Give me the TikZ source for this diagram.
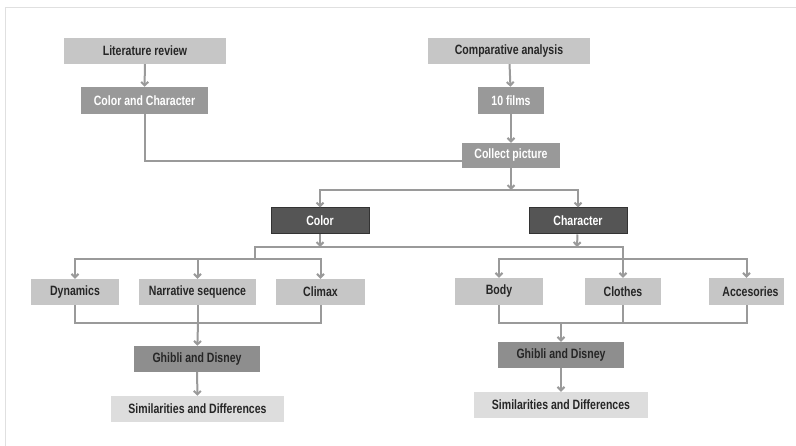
\documentclass[tikz,border=0pt]{standalone}
\usepackage{fontspec}
\setmainfont{Liberation Sans}[FakeStretch=0.78]
\usetikzlibrary{arrows.meta}
\definecolor{lightbox}{HTML}{C6C6C6}
\definecolor{palebox}{HTML}{DDDDDD}
\definecolor{midbox}{HTML}{999999}
\definecolor{ghibbox}{HTML}{8E8E8E}
\definecolor{darkbox}{HTML}{555555}
\definecolor{wire}{HTML}{9A9A9A}
\tikzset{
  box/.style={minimum width=#1,minimum height=26,inner sep=0pt,font=\bfseries\fontsize{13.5}{15}\selectfont},
  lightnode/.style={box=#1,fill=lightbox,text=black!85},
  palenode/.style={box=#1,fill=palebox,text=black!85},
  midnode/.style={box=#1,fill=midbox,text=white},
  ghibnode/.style={box=#1,fill=ghibbox,text=black!85},
  darknode/.style={box=#1,fill=darkbox,draw=black!80,line width=1pt,text=white},
  wireline/.style={draw=wire,line width=2pt},
  arr/.style={wireline,-{Straight Barb[length=3.5pt,width=7pt]}}
}

\begin{document}
\begin{tikzpicture}[x=1pt,y=-1pt]
  \useasboundingbox (0,0) rectangle (796,446);
  \draw[black!12,line width=1pt] (5,446)--(5,8)--(796,8);
  % top part
  \node[lightnode=162] (lit) at (145,51) {Literature review};
  \node[midnode=127,minimum height=27] (cc) at (144.5,100.5) {Color and Character};
  \node[lightnode=162] (comp) at (509,51) {Comparative analysis};
  \node[midnode=66,minimum height=27] (films) at (511,100.5) {10 films};
  \node[midnode=98,minimum height=25] (collect) at (511,155.5) {Collect picture};
  \node[darknode=98] (color) at (320,221) {Color};
  \node[darknode=98] (charac) at (578,221) {Character};
  % second row
  \node[lightnode=88] (dyn) at (75,292) {Dynamics};
  \node[lightnode=117] (narr) at (197.5,292) {Narrative sequence};
  \node[lightnode=89] (clim) at (320.5,292) {Climax};
  \node[lightnode=88,minimum height=27] (body) at (499,291.5) {Body};
  \node[lightnode=76,minimum height=27] (clothes) at (623,291.5) {Clothes};
  \node[lightnode=75,minimum height=27] (acc) at (746.5,291.5) {\hspace{8pt}Accesories};
  % bottom
  \node[ghibnode=126] (ghibL) at (197,359) {Ghibli and Disney};
  \node[palenode=173] (simL) at (197.5,409) {Similarities and Differences};
  \node[ghibnode=126] (ghibR) at (561,355) {Ghibli and Disney};
  \node[palenode=174] (simR) at (561,405) {Similarities and Differences};
  % junctions
  \coordinate (top) at (511,190);
  \coordinate (cj) at (320,247);
  \coordinate (hj) at (577,247);
  \coordinate (barl) at (255,247);
  \coordinate (barr) at (623,247);
  \coordinate (lsplit) at (255,259);
  \coordinate (rsplit) at (623,259);
  \coordinate (lmerge) at (198,323);
  \coordinate (rmerge) at (561,323);
  % connectors
  \draw[arr] (lit) -- (cc);
  \draw[arr] (comp) -- (films);
  \draw[arr] (films) -- (collect);
  \draw[wireline] (cc.south) |- ([yshift=-5.5pt]collect.west);
  \draw[arr] (collect) -- (top);
  \draw[arr] (top) -| (color.north);
  \draw[arr] (top) -| (charac.north);
  \draw[arr] (color) -- (cj);
  \draw[arr] (charac) -- (hj);
  \draw[wireline] (lsplit) -- (barl) -- (barr) -- (rsplit);
  \draw[arr] (lsplit) -| (dyn.north);
  \draw[arr] (lsplit) -| (clim.north);
  \draw[arr] (narr.north |- lsplit) -- (narr.north);
  \draw[arr] (rsplit) -| (body.north);
  \draw[arr] (rsplit) -| (acc.north);
  \draw[arr] (rsplit) -- (clothes.north);
  \draw[wireline] (dyn.south) |- (lmerge) -| (clim.south);
  \draw[wireline] (narr.south) -- (narr.south |- lmerge);
  \draw[arr] (lmerge) -- (ghibL);
  \draw[wireline] (body.south) |- (rmerge) -| (acc.south);
  \draw[wireline] (clothes.south) -- (clothes.south |- rmerge);
  \draw[arr] (rmerge) -- (ghibR);
  \draw[arr] (ghibL) -- (simL);
  \draw[arr] (ghibR) -- (simR);
\end{tikzpicture}
\end{document}
